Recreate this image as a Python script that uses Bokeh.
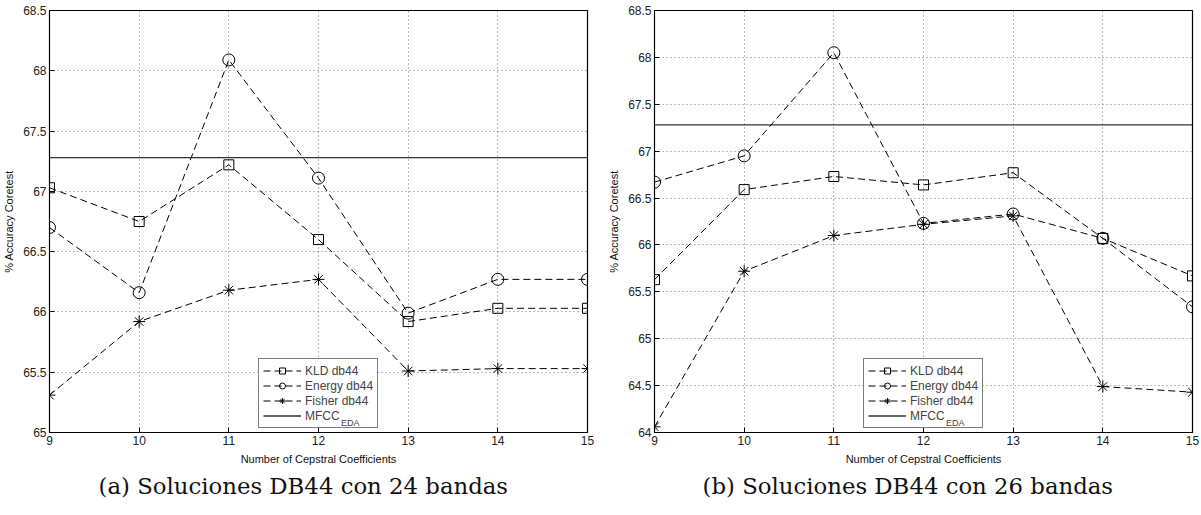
from bokeh.plotting import figure
from bokeh.models import Legend, LegendItem, FixedTicker, NumeralTickFormatter, Range1d
from bokeh.layouts import row
from bokeh.embed import file_html
from bokeh.resources import INLINE

coefficients = [9, 10, 11, 12, 13, 14, 15]

kld_24 = [67.03, 66.75, 67.22, 66.60, 65.92, 66.03, 66.03]
energy_24 = [66.70, 66.16, 68.09, 67.11, 65.99, 66.27, 66.27]
fisher_24 = [65.31, 65.92, 66.18, 66.27, 65.51, 65.53, 65.53]
mfcc_eda_24 = 67.28

kld_26 = [65.63, 66.59, 66.73, 66.64, 66.77, 66.07, 65.67]
energy_26 = [66.67, 66.95, 68.05, 66.23, 66.33, 66.07, 65.34]
fisher_26 = [64.06, 65.72, 66.10, 66.22, 66.31, 64.49, 64.43]
mfcc_eda_26 = 67.28

y_ticks_24 = [65, 65.5, 66, 66.5, 67, 67.5, 68, 68.5]
y_ticks_26 = [64, 64.5, 65, 65.5, 66, 66.5, 67, 67.5, 68, 68.5]

series_labels = ["KLD db44", "Energy db44", "Fisher db44", "MFCC"]
subscript_label = "EDA"
captions = ["(a) Soluciones DB44 con 24 bandas", "(b) Soluciones DB44 con 26 bandas"]
x_label = "Number of Cepstral Coefficients"
y_label = "% Accuracy Coretest"

SANS = "Liberation Sans"
FIG_H = 501
BORDER_TOP = 10
BORDER_BOTTOM = 60


def make_fig(kld, energy, fisher, mfcc, yticks, caption, width, bl, br, cap_offset):
    p = figure(width=width, height=FIG_H, output_backend="svg", toolbar_location=None,
               x_range=Range1d(coefficients[0], coefficients[-1]),
               y_range=Range1d(yticks[0], yticks[-1]),
               min_border_left=bl, min_border_right=br, min_border_top=BORDER_TOP,
               min_border_bottom=BORDER_BOTTOM)
    p.outline_line_color = "black"
    p.outline_line_width = 1.2
    p.background_fill_color = "white"
    p.border_fill_color = "white"

    p.xaxis.ticker = FixedTicker(ticks=coefficients)
    p.yaxis.ticker = FixedTicker(ticks=yticks)
    p.yaxis.formatter = NumeralTickFormatter(format="0.[0]")
    for ax in (p.xaxis, p.yaxis):
        ax.major_tick_in = 5
        ax.major_tick_out = 0
        ax.minor_tick_line_color = None
        ax.axis_line_color = "black"
        ax.major_tick_line_color = "black"
        ax.major_label_text_font = SANS
        ax.major_label_text_font_size = "12px"
        ax.major_label_text_color = "#222222"
        ax.major_label_standoff = 3
        ax.axis_label_text_font = SANS
        ax.axis_label_text_font_size = "11px"
        ax.axis_label_text_font_style = "normal"
        ax.axis_label_text_color = "#111111"
        ax.axis_label_standoff = 5
    p.xaxis.axis_label = x_label
    p.yaxis.axis_label = y_label

    p.grid.grid_line_color = "#777777"
    p.grid.grid_line_dash = "1 3"
    p.grid.grid_line_width = 1

    dash = "7 4"
    r_mfcc = p.line(coefficients, [mfcc] * len(coefficients), line_color="#333333", line_width=1.3)
    rk = p.line(coefficients, kld, line_color="black", line_dash=dash, line_width=1)
    rks = p.scatter(coefficients, kld, marker="square", size=10, fill_color=None,
                    line_color="black", line_width=1)
    re = p.line(coefficients, energy, line_color="black", line_dash=dash, line_width=1)
    res = p.scatter(coefficients, energy, marker="circle", size=12, fill_color=None,
                    line_color="black", line_width=1)
    rf = p.line(coefficients, fisher, line_color="black", line_dash=dash, line_width=1)
    rfs = p.scatter(coefficients, fisher, marker="asterisk", size=12,
                    line_color="black", line_width=1)

    legend = Legend(items=[
        LegendItem(label=series_labels[0], renderers=[rk, rks]),
        LegendItem(label=series_labels[1], renderers=[re, res]),
        LegendItem(label=series_labels[2], renderers=[rf, rfs]),
        LegendItem(label=series_labels[3], renderers=[r_mfcc]),
    ], location=(209, 4))
    legend.glyph_width = 38
    legend.glyph_height = 15
    legend.label_height = 15
    legend.spacing = 0
    legend.padding = 4
    legend.margin = 0
    legend.label_standoff = 4
    legend.label_text_font = SANS
    legend.label_text_font_size = "12px"
    legend.label_text_line_height = 1.0
    legend.border_line_color = "black"
    legend.border_line_width = 1.5
    legend.background_fill_color = "white"
    legend.background_fill_alpha = 1
    p.add_layout(legend, "center")

    # subscript of the MFCC legend label, drawn as a glyph-less second legend
    sub = Legend(items=[LegendItem(label=subscript_label, renderers=[r_mfcc])],
                 location=(292, 4))
    sub.glyph_width = 0
    sub.glyph_height = 10
    sub.label_height = 10
    sub.label_standoff = 0
    sub.padding = 0
    sub.margin = 0
    sub.spacing = 0
    sub.label_text_font = SANS
    sub.label_text_font_size = "9px"
    sub.label_text_line_height = 1.0
    sub.border_line_color = None
    sub.background_fill_alpha = 0
    p.add_layout(sub, "center")

    p.title.text = caption
    p.title_location = "below"
    p.title.align = "left"
    p.title.offset = cap_offset
    p.title.standoff = 6
    p.title.text_font = "DejaVu Serif"
    p.title.text_font_size = "22.8px"
    p.title.text_font_style = "normal"
    p.title.text_color = "#111111"
    return p


p1 = make_fig(kld_24, energy_24, fisher_24, mfcc_eda_24, y_ticks_24, captions[0], 600, 49, 13, 49)
p2 = make_fig(kld_26, energy_26, fisher_26, mfcc_eda_26, y_ticks_26, captions[1], 599, 54, 7, 48)

layout = row(p1, p2)
open("out.html", "w").write(file_html(layout, INLINE))
